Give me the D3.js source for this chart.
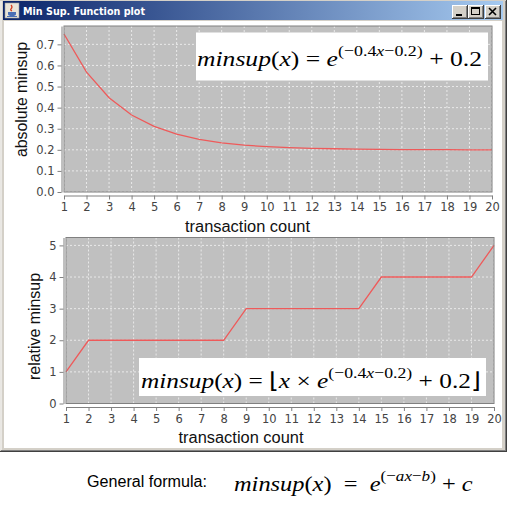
<!DOCTYPE html>
<html><head><meta charset="utf-8">
<script src="https://cdn.jsdelivr.net/npm/d3@7"></script>
<style>html,body{margin:0;padding:0;background:#fff;} svg{display:block}</style>
</head><body>
<svg id="chart" width="514" height="507"></svg>
<script>
// ---------- data ----------
const windowTitle = "Min Sup. Function plot";
const transactionCounts = [1,2,3,4,5,6,7,8,9,10,11,12,13,14,15,16,17,18,19,20];
const absoluteMinsup = [0.749,0.568,0.447,0.365,0.311,0.274,0.250,0.233,0.222,0.215,0.210,0.207,0.205,0.203,0.202,0.201,0.201,0.201,0.200,0.200];
const relativeMinsup = [1,2,2,2,2,2,2,2,3,3,3,3,3,3,4,4,4,4,4,5];
const absoluteTicks = [0,0.1,0.2,0.3,0.4,0.5,0.6,0.7];
const relativeTicks = [0,1,2,3,4,5];
const xLabel = "transaction count";
const yLabels = ["absolute minsup","relative minsup"];
const generalLabel = "General formula:";
const topFormula = [["minsup","i"],["(","r"],["x","i"],[")","r"],[" = ","r"],["e","i"],["(\u22120.4","rs"],["x","is"],["\u22120.2)","rs"],[" + 0.2","r"]];
const bottomFormula = [["minsup","i"],["(","r"],["x","i"],[")","r"],[" = ","r"],["\u230A","r"],["x","i"],[" \u00D7 ","r"],["e","i"],["(\u22120.4","rs"],["x","is"],["\u22120.2)","rs"],[" + 0.2","r"],["\u230B","r"]];
const generalFormula = [["minsup","i"],["(","r"],["x","i"],[")","r"],["  =  ","r"],["e","i"],["(\u2212","rs"],["ax","is"],["\u2212","rs"],["b","is"],[")","rs"],[" + ","r"],["c","i"]];

// ---------- window frame ----------
const svg = d3.select("#chart");
svg.append("rect").attr("width",514).attr("height",507).attr("fill","#fff");
svg.append("rect").attr("x",0).attr("y",0).attr("width",507).attr("height",452).attr("fill","#d4d0c8");
svg.append("line").attr("x1",1).attr("y1",1).attr("x2",1).attr("y2",450).attr("stroke","#fff");
svg.append("line").attr("x1",506.5).attr("y1",0).attr("x2",506.5).attr("y2",452).attr("stroke","#404040");
svg.append("line").attr("x1",0).attr("y1",451.5).attr("x2",507).attr("y2",451.5).attr("stroke","#404040");
svg.append("line").attr("x1",505.5).attr("y1",1).attr("x2",505.5).attr("y2",451).attr("stroke","#808080");
svg.append("line").attr("x1",1).attr("y1",450.5).attr("x2",506).attr("y2",450.5).attr("stroke","#808080");
svg.append("rect").attr("x",4).attr("y",21).attr("width",498).attr("height",427).attr("fill","#fff");

const grad = svg.append("defs").append("linearGradient").attr("id","tb");
grad.append("stop").attr("offset","0").attr("stop-color","#0a246a");
grad.append("stop").attr("offset","1").attr("stop-color","#a6caf0");
svg.append("rect").attr("x",3).attr("y",1).attr("width",500).attr("height",19).attr("fill","url(#tb)");

// icon
const ic = svg.append("g").attr("transform","translate(5,3)");
ic.append("rect").attr("width",14).attr("height",15).attr("fill","#e9e4d8").attr("stroke","#9a9a9a").attr("stroke-width",0.6);
ic.append("path").attr("d","M6 2 q2 2 0 4 q-1 1 1 2").attr("stroke","#d23c1e").attr("fill","none").attr("stroke-width",1.2);
ic.append("path").attr("d","M3 9 h8 v2 q0 2 -4 2 q-4 0 -4 -2z").attr("fill","#4a6fb5");
ic.append("path").attr("d","M2 13.5 h10").attr("stroke","#4a6fb5").attr("stroke-width",1);

svg.append("text").attr("x",23).attr("y",15).text(windowTitle)
  .attr("fill","#fff").style("font-family","'DejaVu Sans',sans-serif").style("font-weight","bold").style("font-size","11px")
  .attr("textLength",122).attr("lengthAdjust","spacingAndGlyphs");

// buttons
const btns = [[452,"min"],[468,"max"],[485,"close"]];
btns.forEach(([bx,kind])=>{
  const b = svg.append("g").attr("transform",`translate(${bx},5)`);
  b.append("rect").attr("width",16).attr("height",14).attr("fill","#404040");
  b.append("rect").attr("width",15).attr("height",13).attr("fill","#fff");
  b.append("rect").attr("x",1).attr("y",1).attr("width",14).attr("height",12).attr("fill","#808080");
  b.append("rect").attr("x",1).attr("y",1).attr("width",13).attr("height",11).attr("fill","#d4d0c8");
  if(kind==="min") b.append("rect").attr("x",4).attr("y",9).attr("width",6).attr("height",2).attr("fill","#000");
  if(kind==="max"){ b.append("rect").attr("x",3.5).attr("y",2.5).attr("width",8).attr("height",7).attr("fill","none").attr("stroke","#000");
    b.append("rect").attr("x",3).attr("y",2).attr("width",9).attr("height",2).attr("fill","#000"); }
  if(kind==="close") b.append("path").attr("d","M4 3 L11 10 M11 3 L4 10").attr("stroke","#000").attr("stroke-width",1.6);
});

// ---------- charts ----------
const tickFont = "'DejaVu Sans',sans-serif";
const labelFont = "'Liberation Sans',Arial,sans-serif";

function drawChart(cfg){
  const x = d3.scaleLinear().domain([1,20]).range([cfg.left,cfg.right]);
  const y = d3.scaleLinear().domain([0,cfg.yMax]).range([cfg.bottom,cfg.top]);
  const g = svg.append("g");
  g.append("rect").attr("x",cfg.left).attr("y",cfg.top).attr("width",cfg.right-cfg.left).attr("height",cfg.bottom-cfg.top).attr("fill","#c0c0c0");
  // gridlines
  g.append("g").selectAll("line").data(transactionCounts).join("line")
    .attr("x1",d=>x(d)).attr("x2",d=>x(d)).attr("y1",cfg.top).attr("y2",cfg.bottom)
    .attr("stroke","#f4f4f4").attr("stroke-width",0.8).attr("stroke-dasharray","2,2");
  g.append("g").selectAll("line").data(cfg.ticks).join("line")
    .attr("y1",d=>y(d)).attr("y2",d=>y(d)).attr("x1",cfg.left).attr("x2",cfg.right)
    .attr("stroke","#f4f4f4").attr("stroke-width",0.8).attr("stroke-dasharray","2,2");
  // series
  const pts = transactionCounts.map((c,i)=>[c,cfg.values[i]]);
  g.append("path").datum(pts).attr("fill","none").attr("stroke","#ee5a5a").attr("stroke-width",1.3)
    .attr("d",d3.line().x(d=>x(d[0])).y(d=>y(d[1])));
  g.append("rect").attr("x",cfg.left).attr("y",cfg.top).attr("width",cfg.right-cfg.left).attr("height",cfg.bottom-cfg.top)
    .attr("fill","none").attr("stroke","#808080").attr("stroke-width",1);
  // axes
  const xa = g.append("g").attr("transform",`translate(0,${cfg.bottom+3.5})`)
    .call(d3.axisBottom(x).tickValues(transactionCounts).tickSize(4).tickSizeOuter(0).tickPadding(3.5).tickFormat(d3.format("d")));
  const ya = g.append("g").attr("transform",`translate(${cfg.left-2.5},0)`)
    .call(d3.axisLeft(y).tickValues(cfg.ticks).tickSize(4).tickSizeOuter(0).tickPadding(3).tickFormat(cfg.fmt));
  [xa,ya].forEach(a=>{
    a.select(".domain").attr("stroke","#808080");
    a.selectAll(".tick line").attr("stroke","#808080");
    a.selectAll(".tick text").attr("fill","#444").style("font-family",tickFont).style("font-size","11.5px");
  });
  // labels
  g.append("text").attr("x",cfg.xLabelX).attr("y",cfg.xLabelY).attr("text-anchor","middle").text(xLabel)
    .style("font-family",labelFont).style("font-size","16px").attr("fill","#111")
    .attr("textLength",125).attr("lengthAdjust","spacingAndGlyphs");
  g.append("text").attr("transform",`translate(${cfg.yLabelX},${cfg.yLabelY}) rotate(-90)`).attr("text-anchor","middle").text(cfg.yLabel)
    .style("font-family",labelFont).style("font-size","16px").attr("fill","#111")
    .attr("textLength",cfg.yLabelLen).attr("lengthAdjust","spacingAndGlyphs");
  return g;
}

function drawFormula(pieces, x0, x1, baseline, size){
  const g = svg.append("g");
  const t = g.append("text").attr("x",0).attr("y",0)
    .style("font-family","'Liberation Serif','Times New Roman',serif").style("font-size",size+"px")
    .style("white-space","pre").attr("fill","#000");
  let inSup = false;
  pieces.forEach(([s,k])=>{
    const sup = k.endsWith("s");
    const ts = t.append("tspan").text(s).style("font-style",k[0]==="i"?"italic":"normal");
    if(sup) ts.style("font-size",(size*0.7)+"px");
    if(sup!==inSup){ ts.attr("dy", sup ? -size*0.45 : size*0.45); inSup = sup; }
  });
  const bb = t.node().getBBox();
  const sx = (x1-x0)/bb.width;
  g.attr("transform",`translate(${x0 - bb.x*sx},${baseline}) scale(${sx},1)`);
}

drawChart({left:64,right:492,top:26,bottom:192,yMax:0.787,ticks:absoluteTicks,values:absoluteMinsup,
  fmt:d3.format(".1f"),xLabelX:247.5,xLabelY:232,yLabel:yLabels[0],yLabelX:27,yLabelY:99.5,yLabelLen:115});
svg.append("rect").attr("x",196).attr("y",32.5).attr("width",292).attr("height",48).attr("fill","#fff");
drawFormula(topFormula,197,482,66,22);

drawChart({left:66,right:494,top:237.5,bottom:403.5,yMax:5.25,ticks:relativeTicks,values:relativeMinsup,
  fmt:d3.format("d"),xLabelX:241,xLabelY:443,yLabel:yLabels[1],yLabelX:40,yLabelY:326.5,yLabelLen:107});
svg.append("rect").attr("x",139).attr("y",358).attr("width",347).attr("height",38).attr("fill","#fff");
drawFormula(bottomFormula,141,482,388,22);

// general formula below window
svg.append("text").attr("x",87).attr("y",486.5).text(generalLabel)
  .style("font-family",labelFont).style("font-size","16px").attr("fill","#000")
  .attr("textLength",120).attr("lengthAdjust","spacingAndGlyphs");
drawFormula(generalFormula,234,473,491,22);
</script>
</body></html>
